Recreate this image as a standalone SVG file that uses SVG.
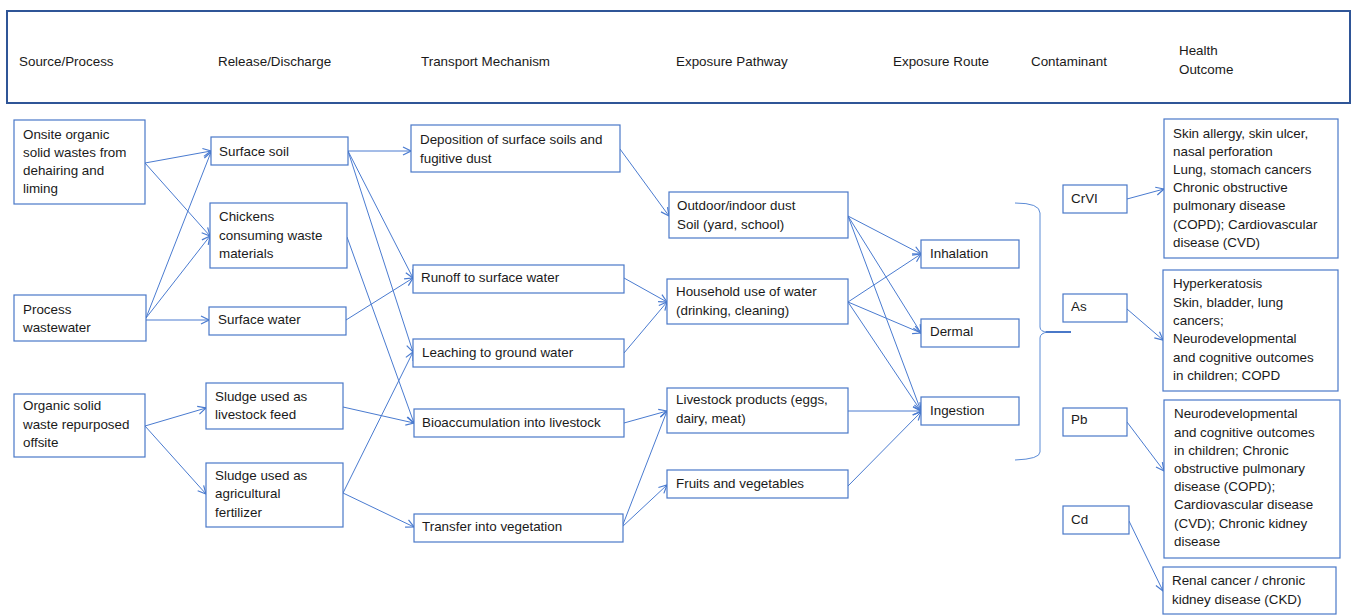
<svg xmlns="http://www.w3.org/2000/svg" width="1356" height="615" viewBox="0 0 1356 615">
  <defs>
    <style>
      .box { fill: #ffffff; stroke: #4a78c8; stroke-width: 1.2; }
      .hdr { fill: #ffffff; stroke: #2f5597; stroke-width: 2; }
      text { font-family: "Liberation Sans", Arial, sans-serif; font-size: 13.4px; fill: #1a1a1a; }
      .edge { fill: none; stroke: #4a7bd0; stroke-width: 1; marker-end: url(#arrow); }
      .brace { fill: none; stroke: #5b8bd6; stroke-width: 1; }
    </style>
    <marker id="arrow" markerUnits="userSpaceOnUse" markerWidth="10" markerHeight="10" refX="9" refY="5" orient="auto">
      <path d="M1,1 L9,5 L1,9" fill="none" stroke="#4a7bd0" stroke-width="1.2"/>
    </marker>
  </defs>

  <rect width="1356" height="615" fill="#ffffff"/>

  <!-- column header band -->
  <g id="header">
    <rect class="hdr" x="7" y="11" width="1343" height="92"/>
    <text x="19" y="66">Source/Process</text>
    <text x="218" y="66">Release/Discharge</text>
    <text x="421" y="66">Transport Mechanism</text>
    <text x="676" y="66">Exposure Pathway</text>
    <text x="893" y="66">Exposure Route</text>
    <text x="1031" y="66">Contaminant</text>
    <text x="1179" y="55">Health</text>
    <text x="1179" y="74">Outcome</text>
  </g>

  <!-- connectors -->
  <g id="connectors">
    <!-- source -> release -->
    <path class="edge" d="M145,163 L211,151"/>
    <path class="edge" d="M145,163 L210,236"/>
    <path class="edge" d="M146,318 L211,152"/>
    <path class="edge" d="M146,318 L210,236"/>
    <path class="edge" d="M146,320 L209,320"/>
    <path class="edge" d="M145,426 L206,408"/>
    <path class="edge" d="M145,426 L206,494"/>
    <!-- release -> transport -->
    <path class="edge" d="M348,151 L411,151"/>
    <path class="edge" d="M348,151 L413,278"/>
    <path class="edge" d="M348,151 L413,352"/>
    <path class="edge" d="M347,237 L414,423"/>
    <path class="edge" d="M346,320 L413,278"/>
    <path class="edge" d="M343,407 L414,423"/>
    <path class="edge" d="M343,493 L413,352"/>
    <path class="edge" d="M343,493 L414,527"/>
    <!-- transport -> pathway -->
    <path class="edge" d="M620,149 L669,216"/>
    <path class="edge" d="M624,278 L667,302"/>
    <path class="edge" d="M624,353 L667,302"/>
    <path class="edge" d="M624,423 L667,411"/>
    <path class="edge" d="M622,527 L667,411"/>
    <path class="edge" d="M622,527 L667,485"/>
    <!-- pathway -> route -->
    <path class="edge" d="M848,216 L921,254"/>
    <path class="edge" d="M848,216 L921,333"/>
    <path class="edge" d="M848,216 L921,411"/>
    <path class="edge" d="M848,302 L921,254"/>
    <path class="edge" d="M848,302 L921,333"/>
    <path class="edge" d="M848,302 L921,411"/>
    <path class="edge" d="M848,411 L921,411"/>
    <path class="edge" d="M848,486 L921,412"/>
    <!-- contaminant -> outcome -->
    <path class="edge" d="M1127,199 L1164,189"/>
    <path class="edge" d="M1127,309 L1163,340"/>
    <path class="edge" d="M1127,422 L1164,471"/>
    <path class="edge" d="M1129,521 L1163,591"/>
    <!-- brace grouping routes -->
    <path class="brace" d="M1015,203 Q1040,203 1040,213 L1040,327 Q1040,332 1048,332"/>
    <path class="brace" d="M1048,332 Q1040,333 1040,338 L1040,452 Q1040,459 1015,460"/>
    <path d="M1046,332 L1071,332" stroke="#4a78c8" stroke-width="2" fill="none"/>
  </g>

  <!-- source / process -->
  <g id="n-onsite">
    <rect class="box" x="14" y="120" width="131" height="84"/>
    <text x="23" y="139">Onsite organic</text>
    <text x="23" y="157">solid wastes from</text>
    <text x="23" y="175">dehairing and</text>
    <text x="23" y="193">liming</text>
  </g>
  <g id="n-wastewater">
    <rect class="box" x="14" y="295" width="132" height="46"/>
    <text x="23" y="314">Process</text>
    <text x="23" y="332">wastewater</text>
  </g>
  <g id="n-offsite">
    <rect class="box" x="14" y="394" width="131" height="63"/>
    <text x="23" y="410">Organic solid</text>
    <text x="23" y="429">waste repurposed</text>
    <text x="23" y="447">offsite</text>
  </g>

  <!-- release / discharge -->
  <g id="n-surface-soil">
    <rect class="box" x="211" y="137" width="137" height="28"/>
    <text x="219" y="156">Surface soil</text>
  </g>
  <g id="n-chickens">
    <rect class="box" x="210" y="203" width="137" height="65"/>
    <text x="219" y="221">Chickens</text>
    <text x="219" y="240">consuming waste</text>
    <text x="219" y="258">materials</text>
  </g>
  <g id="n-surface-water">
    <rect class="box" x="209" y="307" width="137" height="28"/>
    <text x="218" y="324">Surface water</text>
  </g>
  <g id="n-sludge-feed">
    <rect class="box" x="206" y="383" width="137" height="46"/>
    <text x="215" y="401">Sludge used as</text>
    <text x="215" y="419">livestock feed</text>
  </g>
  <g id="n-sludge-fert">
    <rect class="box" x="206" y="463" width="137" height="64"/>
    <text x="215" y="480">Sludge used as</text>
    <text x="215" y="498">agricultural</text>
    <text x="215" y="517">fertilizer</text>
  </g>

  <!-- transport mechanism -->
  <g id="n-deposition">
    <rect class="box" x="411" y="125" width="209" height="47"/>
    <text x="420" y="144">Deposition of surface soils and</text>
    <text x="420" y="163">fugitive dust</text>
  </g>
  <g id="n-runoff">
    <rect class="box" x="413" y="265" width="211" height="28"/>
    <text x="421" y="282">Runoff to surface water</text>
  </g>
  <g id="n-leaching">
    <rect class="box" x="413" y="339" width="211" height="28"/>
    <text x="422" y="357">Leaching to ground water</text>
  </g>
  <g id="n-bioaccumulation">
    <rect class="box" x="414" y="409" width="210" height="28"/>
    <text x="422" y="427">Bioaccumulation into livestock</text>
  </g>
  <g id="n-transfer">
    <rect class="box" x="414" y="514" width="209" height="28"/>
    <text x="422" y="531">Transfer into vegetation</text>
  </g>

  <!-- exposure pathway -->
  <g id="n-dust">
    <rect class="box" x="669" y="192" width="179" height="46"/>
    <text x="677" y="210">Outdoor/indoor dust</text>
    <text x="677" y="229">Soil (yard, school)</text>
  </g>
  <g id="n-household">
    <rect class="box" x="667" y="279" width="181" height="45"/>
    <text x="676" y="296">Household use of water</text>
    <text x="676" y="315">(drinking, cleaning)</text>
  </g>
  <g id="n-livestock-products">
    <rect class="box" x="667" y="388" width="181" height="45"/>
    <text x="676" y="404">Livestock products (eggs,</text>
    <text x="676" y="423">dairy, meat)</text>
  </g>
  <g id="n-fruits">
    <rect class="box" x="667" y="470" width="181" height="28"/>
    <text x="676" y="488">Fruits and vegetables</text>
  </g>

  <!-- exposure route -->
  <g id="n-inhalation">
    <rect class="box" x="921" y="240" width="98" height="28"/>
    <text x="930" y="258">Inhalation</text>
  </g>
  <g id="n-dermal">
    <rect class="box" x="921" y="319" width="98" height="28"/>
    <text x="930" y="336">Dermal</text>
  </g>
  <g id="n-ingestion">
    <rect class="box" x="921" y="397" width="98" height="28"/>
    <text x="930" y="415">Ingestion</text>
  </g>

  <!-- contaminant -->
  <g id="n-crvi">
    <rect class="box" x="1063" y="185" width="64" height="28"/>
    <text x="1071" y="203">CrVI</text>
  </g>
  <g id="n-as">
    <rect class="box" x="1063" y="294" width="64" height="28"/>
    <text x="1071" y="311">As</text>
  </g>
  <g id="n-pb">
    <rect class="box" x="1063" y="408" width="64" height="28"/>
    <text x="1071" y="424">Pb</text>
  </g>
  <g id="n-cd">
    <rect class="box" x="1063" y="506" width="66" height="28"/>
    <text x="1071" y="524">Cd</text>
  </g>

  <!-- health outcome -->
  <g id="n-outcome-crvi">
    <rect class="box" x="1164" y="119" width="174" height="139"/>
    <text x="1173" y="138">Skin allergy, skin ulcer,</text>
    <text x="1173" y="156">nasal perforation</text>
    <text x="1173" y="174">Lung, stomach cancers</text>
    <text x="1173" y="192">Chronic obstructive</text>
    <text x="1173" y="210">pulmonary disease</text>
    <text x="1173" y="229">(COPD); Cardiovascular</text>
    <text x="1173" y="247">disease (CVD)</text>
  </g>
  <g id="n-outcome-as">
    <rect class="box" x="1163" y="270" width="175" height="121"/>
    <text x="1173" y="288">Hyperkeratosis</text>
    <text x="1173" y="307">Skin, bladder, lung</text>
    <text x="1173" y="325">cancers;</text>
    <text x="1173" y="343">Neurodevelopmental</text>
    <text x="1173" y="362">and cognitive outcomes</text>
    <text x="1173" y="380">in children; COPD</text>
  </g>
  <g id="n-outcome-pb">
    <rect class="box" x="1164" y="400" width="176" height="158"/>
    <text x="1174" y="418">Neurodevelopmental</text>
    <text x="1174" y="437">and cognitive outcomes</text>
    <text x="1174" y="455">in children; Chronic</text>
    <text x="1174" y="473">obstructive pulmonary</text>
    <text x="1174" y="491">disease (COPD);</text>
    <text x="1174" y="509">Cardiovascular disease</text>
    <text x="1174" y="528">(CVD); Chronic kidney</text>
    <text x="1174" y="546">disease</text>
  </g>
  <g id="n-outcome-cd">
    <rect class="box" x="1163" y="567" width="173" height="47"/>
    <text x="1172" y="585">Renal cancer / chronic</text>
    <text x="1172" y="604">kidney disease (CKD)</text>
  </g>
</svg>
